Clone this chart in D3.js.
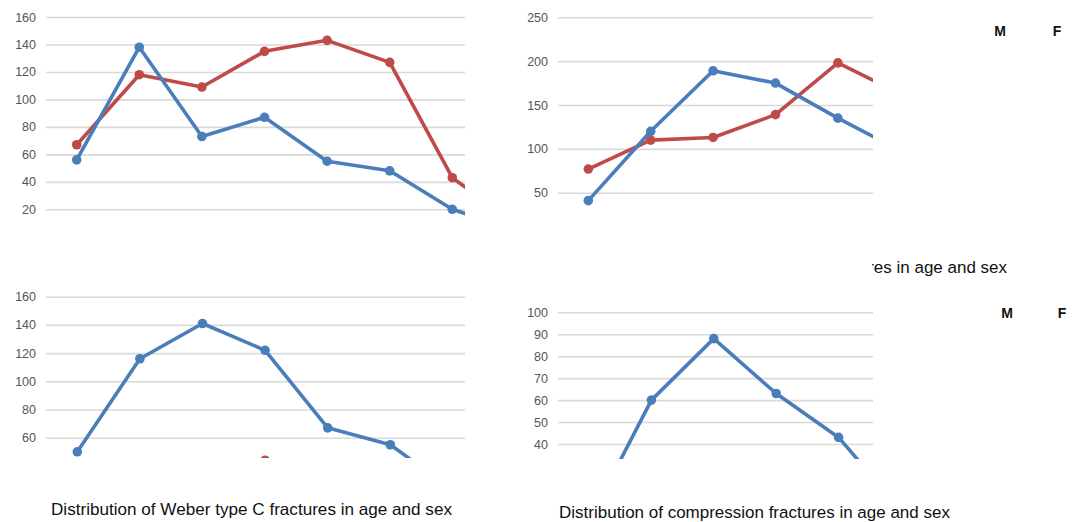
<!DOCTYPE html>
<html><head><meta charset="utf-8">
<script src="https://cdn.jsdelivr.net/npm/d3@7/dist/d3.min.js"></script>
<style>html,body{margin:0;padding:0;background:#fff;}svg{display:block;}</style>
</head><body>
<svg id="chart" width="1079" height="522"></svg>
<script>
// ---- data ----
const categories = ["0-10","11-20","21-30","31-40","41-50","51-60","61-70","71-80"];
const seriesNames = ["M","F"];

// top-left panel (title hidden)
const panelA_M = [56, 138, 73, 87, 55, 48, 20, 5];
const panelA_F = [67, 118, 109, 135, 143, 127, 43, 10];
const panelA_ticks = [20, 40, 60, 80, 100, 120, 140, 160];

// top-right panel
const panelB_M = [41, 120, 189, 175, 135, 98];
const panelB_F = [77, 110, 113, 139, 198, 163];
const panelB_ticks = [50, 100, 150, 200, 250];
const panelB_title = "Distribution of Weber type B fractures in age and sex";

// bottom-left panel
const panelC_M = [50, 116, 141, 122, 67, 55, 23];
const panelC_F = [12, 30, 38, 44, 36, 25, 10];
const panelC_ticks = [60, 80, 100, 120, 140, 160];
const panelC_title = "Distribution of Weber type C fractures in age and sex";

// bottom-right panel
const panelD_M = [5, 60, 88, 63, 43, 10];
const panelD_F = [10, 18, 22, 25, 20, 12];
const panelD_ticks = [40, 50, 60, 70, 80, 90, 100];
const panelD_title = "Distribution of compression fractures in age and sex";

// ---- drawing ----
const svg = d3.select("#chart");
const BLUE = "#4a7ebb", RED = "#be4b48", GRID = "#d9d9d9";
const defs = svg.append("defs");

function panel(id, o) {
  const g = svg.append("g");
  const x = d3.scalePoint().domain(categories)
    .range([o.x0, o.x0 + o.step * (categories.length - 1)]);
  const y = d3.scaleLinear().domain(o.yDomain).range(o.yRange);

  // axis with gridlines
  const ax = d3.axisLeft(y).tickValues(o.ticks)
    .tickSize(-(o.gridR - o.gridL)).tickPadding(o.gridL - o.labelR);
  const axg = g.append("g").attr("transform", `translate(${o.gridL},0)`).call(ax);
  axg.select(".domain").remove();
  axg.selectAll(".tick line").attr("stroke", GRID).attr("stroke-width", 1.6);
  axg.selectAll(".tick text").attr("fill", "#555")
    .style("font-family", "'Liberation Sans', Arial, sans-serif").style("font-size", "12.5px");

  defs.append("clipPath").attr("id", id).append("rect")
    .attr("x", 0).attr("y", o.clipTop).attr("width", o.clipR).attr("height", o.clipB - o.clipTop);
  const plot = g.append("g").attr("clip-path", `url(#${id})`);
  const line = d3.line().x((d, i) => x(categories[i])).y(d => y(d));
  [[o.F, RED], [o.M, BLUE]].forEach(([vals, col]) => {
    plot.append("path").datum(vals).attr("d", line)
      .attr("fill", "none").attr("stroke", col).attr("stroke-width", 3.6)
      .attr("stroke-linejoin", "round");
    plot.selectAll(null).data(vals).join("circle")
      .attr("cx", (d, i) => x(categories[i])).attr("cy", d => y(d))
      .attr("r", 4.8).attr("fill", col);
  });
}

panel("clipA", {x0: 76.7, step: 62.6, yDomain: [20, 160], yRange: [209.3, 17], ticks: panelA_ticks,
  gridL: 46, gridR: 465, labelR: 36, clipTop: 0, clipR: 465, clipB: 218, M: panelA_M, F: panelA_F});
panel("clipB", {x0: 588.3, step: 62.4, yDomain: [50, 250], yRange: [192.7, 17.3], ticks: panelB_ticks,
  gridL: 558, gridR: 873, labelR: 548, clipTop: 0, clipR: 873, clipB: 218, M: panelB_M, F: panelB_F});
panel("clipC", {x0: 77.3, step: 62.6, yDomain: [60, 160], yRange: [437.7, 296.7], ticks: panelC_ticks,
  gridL: 46, gridR: 465, labelR: 36, clipTop: 280, clipR: 465, clipB: 458, M: panelC_M, F: panelC_F});
panel("clipD", {x0: 589, step: 62.4, yDomain: [40, 100], yRange: [444, 312.3], ticks: panelD_ticks,
  gridL: 558, gridR: 873, labelR: 548, clipTop: 280, clipR: 873, clipB: 459, M: panelD_M, F: panelD_F});

// titles, fitted to the widths seen in the picture
function fitTitle(txt, cx, baseY, width, anchor, clipId) {
  const t = svg.append("text").text(txt)
    .attr("x", cx).attr("y", baseY).attr("text-anchor", anchor).attr("fill", "#111")
    .style("font-family", "'Liberation Sans', Arial, sans-serif").style("font-size", "16px");
  const w = t.node().getComputedTextLength();
  t.style("font-size", (16 * width / w).toFixed(2) + "px");
  if (clipId) t.attr("clip-path", `url(#${clipId})`);
  return t;
}
fitTitle(panelC_title, 251.5, 515, 401, "middle");
const fsD = fitTitle(panelD_title, 754.5, 518, 391, "middle");
defs.append("clipPath").attr("id", "clipTitleB").append("rect")
  .attr("x", 872).attr("y", 240).attr("width", 300).attr("height", 50);
svg.append("text").text(panelB_title)
  .attr("x", 1007).attr("y", 273).attr("text-anchor", "end").attr("fill", "#111")
  .style("font-family", "'Liberation Sans', Arial, sans-serif").style("font-size", fsD.style("font-size"))
  .attr("clip-path", "url(#clipTitleB)");

// legend labels (markers not visible in the picture)
const legends = [{y: 36, xs: [1000, 1057]}, {y: 318, xs: [1007, 1062]}];
legends.forEach(l => {
  svg.selectAll(null).data(seriesNames).join("text")
    .attr("x", (d, i) => l.xs[i]).attr("y", l.y).attr("text-anchor", "middle")
    .attr("fill", "#111").style("font-family", "'Liberation Sans Narrow', 'Liberation Sans', Arial, sans-serif")
    .style("font-weight", "bold").style("font-size", "14px").text(d => d);
});
</script>
</body></html>
